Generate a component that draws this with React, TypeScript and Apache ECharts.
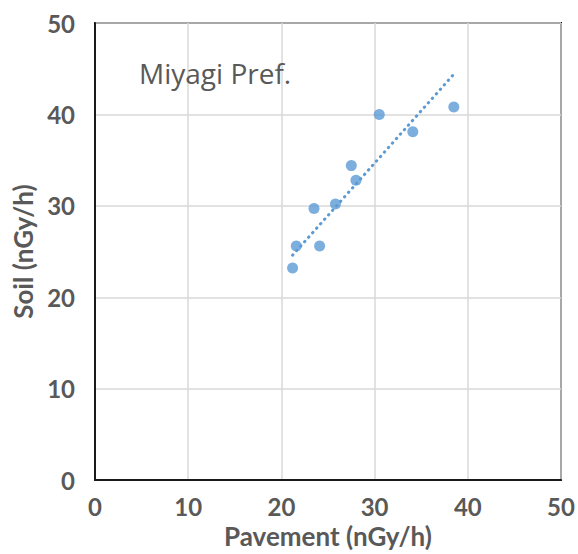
import React, { useEffect, useRef } from "react";
import * as echarts from "echarts";

// Pavement (x) vs Soil (y) dose rates, nGy/h
const pavement = [21.2, 21.6, 23.5, 24.1, 25.8, 27.5, 28.0, 30.5, 34.1, 38.5];
const soil = [23.2, 25.6, 29.7, 25.6, 30.2, 34.4, 32.8, 40.0, 38.1, 40.8];
// Trendline endpoints
const trendX = [21.2, 38.5];
const trendY = [24.6, 44.4];
const axisTicks = [0, 10, 20, 30, 40, 50];

const GRAY = "#595959";
const BLUE = "#5b9bd5";

export default function App() {
  const ref = useRef<HTMLDivElement>(null);
  useEffect(() => {
    document.body.style.margin = "0";
    const chart = echarts.init(ref.current!, null, { renderer: "svg" });
    chart.setOption({
      animation: false,
      backgroundColor: "#fff",
      title: {
        text: "Miyagi Pref.",
        left: 134,
        top: 54,
        textStyle: { fontFamily: "Open Sans", fontSize: 28, fontWeight: "normal", color: GRAY },
      },
      grid: {
        left: 95,
        top: 23,
        right: 17,
        bottom: 69,
        show: true,
        borderColor: "#1a1a1a",
        borderWidth: 2,
        containLabel: false,
      },
      xAxis: {
        type: "value",
        min: axisTicks[0],
        max: axisTicks[axisTicks.length - 1],
        interval: 10,
        name: "Pavement (nGy/h)",
        nameLocation: "middle",
        nameGap: 42,
        nameTextStyle: { fontFamily: "Lato", fontWeight: "bold", fontSize: 26, color: GRAY },
        axisLine: { show: true, lineStyle: { color: "#1a1a1a", width: 2 } },
        axisTick: { show: false },
        axisLabel: { fontFamily: "Lato", fontWeight: "bold", fontSize: 24, color: GRAY, margin: 14 },
        splitLine: { show: true, lineStyle: { color: "#d9d9d9", width: 1.5 } },
      },
      yAxis: {
        type: "value",
        min: axisTicks[0],
        max: axisTicks[axisTicks.length - 1],
        interval: 10,
        name: "Soil (nGy/h)",
        nameLocation: "middle",
        nameGap: 58,
        nameTextStyle: { fontFamily: "Lato", fontWeight: "bold", fontSize: 26, color: GRAY },
        axisLine: { show: true, lineStyle: { color: "#1a1a1a", width: 2 } },
        axisTick: { show: false },
        axisLabel: { fontFamily: "Lato", fontWeight: "bold", fontSize: 24, color: GRAY, margin: 20 },
        splitLine: { show: true, lineStyle: { color: "#d9d9d9", width: 1.5 } },
      },
      series: [
        {
          type: "line",
          data: trendX.map((x, i) => [x, trendY[i]]),
          showSymbol: false,
          symbol: "none",
          lineStyle: { color: BLUE, width: 3, type: [0.5, 5.5], cap: "round" },
          z: 2,
        },
        {
          type: "scatter",
          data: pavement.map((x, i) => [x, soil[i]]),
          symbolSize: 11,
          itemStyle: { color: BLUE },
          z: 3,
        },
      ],
    });
    return () => chart.dispose();
  }, []);
  return <div ref={ref} style={{ width: 578, height: 554 }} />;
}
